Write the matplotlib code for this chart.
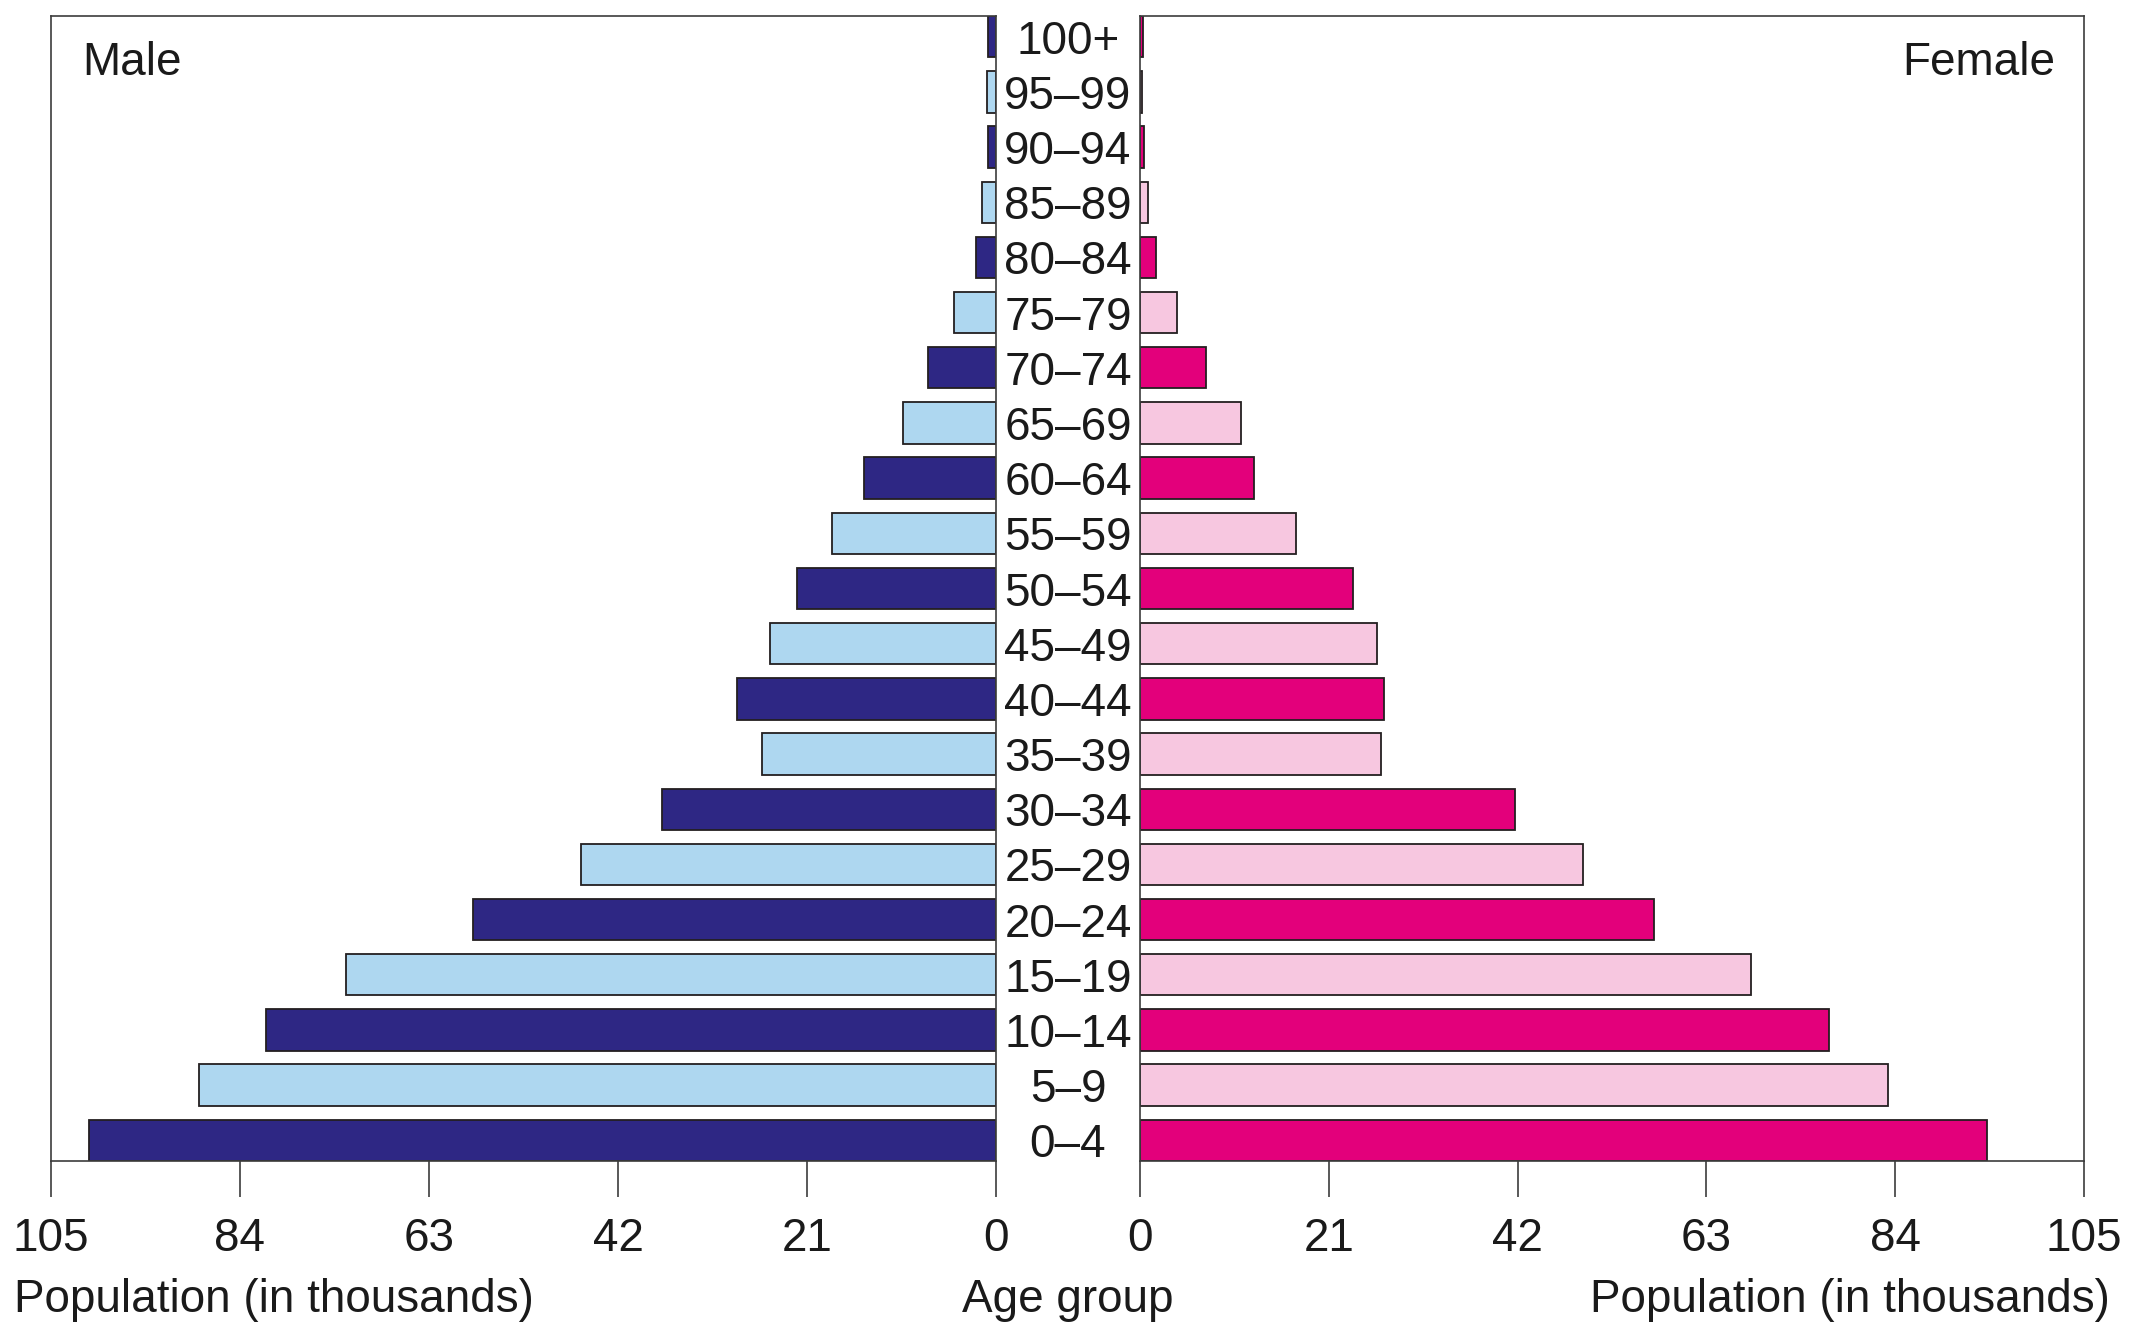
import numpy as np
import matplotlib.pyplot as plt
from matplotlib.transforms import blended_transform_factory

plt.rcParams['font.family'] = ['Liberation Sans', 'DejaVu Sans']

# Data (population in thousands), youngest first
age_groups = ["0–4", "5–9", "10–14", "15–19", "20–24", "25–29", "30–34",
              "35–39", "40–44", "45–49", "50–54", "55–59", "60–64", "65–69",
              "70–74", "75–79", "80–84", "85–89", "90–94", "95–99", "100+"]
male = [100.8, 88.5, 81.1, 72.2, 58.1, 46.1, 37.1,
        26.0, 28.8, 25.1, 22.1, 18.2, 14.7, 10.3,
        7.6, 4.7, 2.2, 1.5, 0.9, 1.0, 0.9]
female = [94.2, 83.2, 76.6, 68.0, 57.2, 49.3, 41.7,
          26.8, 27.1, 26.4, 23.7, 17.4, 12.7, 11.2,
          7.3, 4.1, 1.8, 0.85, 0.5, 0.2, 0.3]
xticks = [0, 21, 42, 63, 84, 105]

male_colors = ['#2e2784', '#aed7f0']
female_colors = ['#e3007b', '#f7c7e0']
edge = '#231f20'
spine_col = '#3c3c3c'
fs = 33

y = np.arange(len(age_groups))

fig = plt.figure(figsize=(21.37, 13.39), dpi=100)
ax_l = fig.add_axes([51 / 2137, 1 - 1161 / 1339, 945 / 2137, 1145 / 1339])
ax_r = fig.add_axes([1140 / 2137, 1 - 1161 / 1339, 944 / 2137, 1145 / 1339])

ax_l.barh(y, male, height=0.75,
          color=[male_colors[i % 2] for i in y], edgecolor=edge, linewidth=1.3)
ax_r.barh(y, female, height=0.75,
          color=[female_colors[i % 2] for i in y], edgecolor=edge, linewidth=1.3)

ax_l.set_xlim(105, 0)
ax_r.set_xlim(0, 105)
for ax in (ax_l, ax_r):
    ax.set_ylim(-0.375, len(age_groups) - 0.625)
    ax.set_xticks(xticks)
    ax.set_yticks([])
    ax.tick_params(axis='x', length=26, width=1.2, pad=14, labelsize=fs,
                   color=spine_col, labelcolor='#1a1a1a')
    for s in ax.spines.values():
        s.set_color(spine_col)
        s.set_linewidth(1.2)

# age group labels in the gap between the two panels
trans = blended_transform_factory(fig.transFigure, ax_r.transData)
for yi, lab in zip(y, age_groups):
    ax_r.text(1068 / 2137, yi, lab, transform=trans, ha='center',
              va='center_baseline', fontsize=fs, color='#1a1a1a', clip_on=False)

fig.text(82 / 2137, 1 - 75 / 1339, "Male", fontsize=fs, va='baseline',
         ha='left', color='#1a1a1a')
fig.text(2055 / 2137, 1 - 75 / 1339, "Female", fontsize=fs, va='baseline',
         ha='right', color='#1a1a1a')

fig.text(14 / 2137, 1 - 1312 / 1339, "Population (in thousands)", fontsize=fs,
         va='baseline', ha='left', color='#1a1a1a')
fig.text(2110 / 2137, 1 - 1312 / 1339, "Population (in thousands)", fontsize=fs,
         va='baseline', ha='right', color='#1a1a1a')
fig.text(1068 / 2137, 1 - 1312 / 1339, "Age group", fontsize=fs,
         va='baseline', ha='center', color='#1a1a1a')

fig.savefig("out.png", dpi=100)
